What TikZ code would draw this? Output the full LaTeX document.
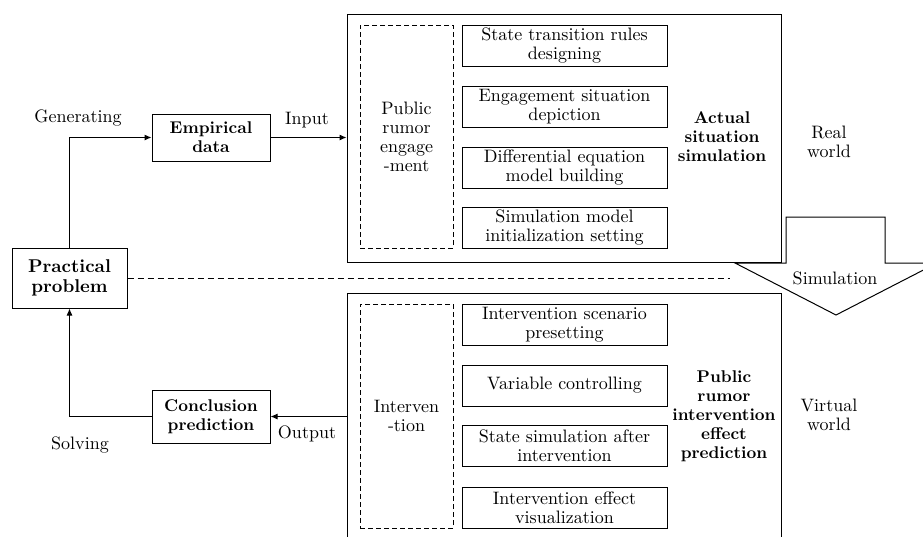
\documentclass[tikz,border=0pt]{standalone}
\usepackage{fontspec}
\setmainfont{lmroman10-regular.otf}[BoldFont=lmroman10-bold.otf]
\usetikzlibrary{arrows.meta}
\newcommand\myfs{\fontsize{18}{19}\selectfont}
\newcommand\mybfs{\fontsize{17}{19}\selectfont\bfseries}
\newcommand\mybbfs{\fontsize{17}{19}\selectfont\bfseries}
\begin{document}
\begin{tikzpicture}[x=1pt,y=-1pt,line width=1pt,
  box/.style={draw,rectangle,inner sep=0pt,align=center,font=\myfs},
  bbox/.style={box,font=\mybfs},
  sub/.style={box,minimum width=205pt,minimum height=41pt},
  dbox/.style={box,dashed,line width=0.9pt,dash pattern=on 5pt off 3pt,minimum width=93pt},
  big/.style={draw,rectangle,inner sep=0pt,minimum width=434pt},
  lbl/.style={align=center,inner sep=0pt,font=\myfs},
  blbl/.style={lbl,font=\mybbfs},
  arr/.style={-{Latex[length=7pt,width=6pt]}}]
\useasboundingbox (0,0) rectangle (923,536);
% big containers
\node[big,minimum height=248pt] (top) at (564,138) {};
\node[big,minimum height=252pt] (bot) at (564,419) {};
% simulation block arrow
\draw[fill=white,line width=1pt] (786,217) -- (885,217) -- (885,263) -- (937,263) -- (836,315) -- (735,263) -- (786,263) -- cycle;
\node[lbl] (sim) at (835,278) {Simulation};
% left boxes
\node[bbox,font=\fontsize{18.5}{20}\selectfont\bfseries,minimum width=115pt,minimum height=60pt] (pp) at (69.5,278) {Practical\\problem};
\node[bbox,minimum width=118pt,minimum height=47pt] (emp) at (211,137.5) {Empirical\\data};
\node[bbox,minimum width=118pt,minimum height=53pt] (con) at (211,416.5) {Conclusion\\prediction};
% top inner
\node[dbox,minimum height=223pt] (eng) at (406.5,136.5) {Public\\rumor\\engage\\-ment};
\node[sub] (s1) at (564.5,45.5) {State transition rules\\designing};
\node[sub] (s2) at (564.5,106.5) {Engagement situation\\depiction};
\node[sub] (s3) at (564.5,167.5) {Differential equation\\model building};
\node[sub] (s4) at (564.5,228) {Simulation model\\initialization setting};
\node[blbl] (act) at (722,137) {Actual\\situation\\simulation};
\node[lbl] (real) at (829,142) {Real\\world};
% bottom inner
\node[dbox,minimum height=224pt] (itv) at (406.5,416) {Interven\\-tion};
\node[sub] (t1) at (564.5,324.5) {Intervention scenario\\presetting};
\node[sub] (t2) at (564.5,385.5) {Variable controlling};
\node[sub] (t3) at (564.5,446) {State simulation after\\intervention};
\node[sub] (t4) at (564.5,507.5) {Intervention effect\\visualization};
\node[blbl] (pred) at (724,416) {Public\\rumor\\intervention\\effect\\prediction};
\node[lbl] (virt) at (829,415) {Virtual\\world};
% labels
\node[lbl] (gen) at (78,118) {Generating};
\node[lbl] (inp) at (307,120) {Input};
\node[lbl] (out) at (307,434) {Output};
\node[lbl] (sol) at (80,445) {Solving};
% connectors
\coordinate (dend) at (730,278);
\draw[arr] (pp.north) |- (emp.west);
\draw[arr] (emp.east) -- (emp.east -| top.west);
\draw[arr] (con.east -| bot.west) -- (con.east);
\draw[arr] (con.west) -| (pp.south);
\draw[line width=0.9pt,dash pattern=on 6pt off 4pt] (pp.east) -- (dend);
\end{tikzpicture}
\end{document}
